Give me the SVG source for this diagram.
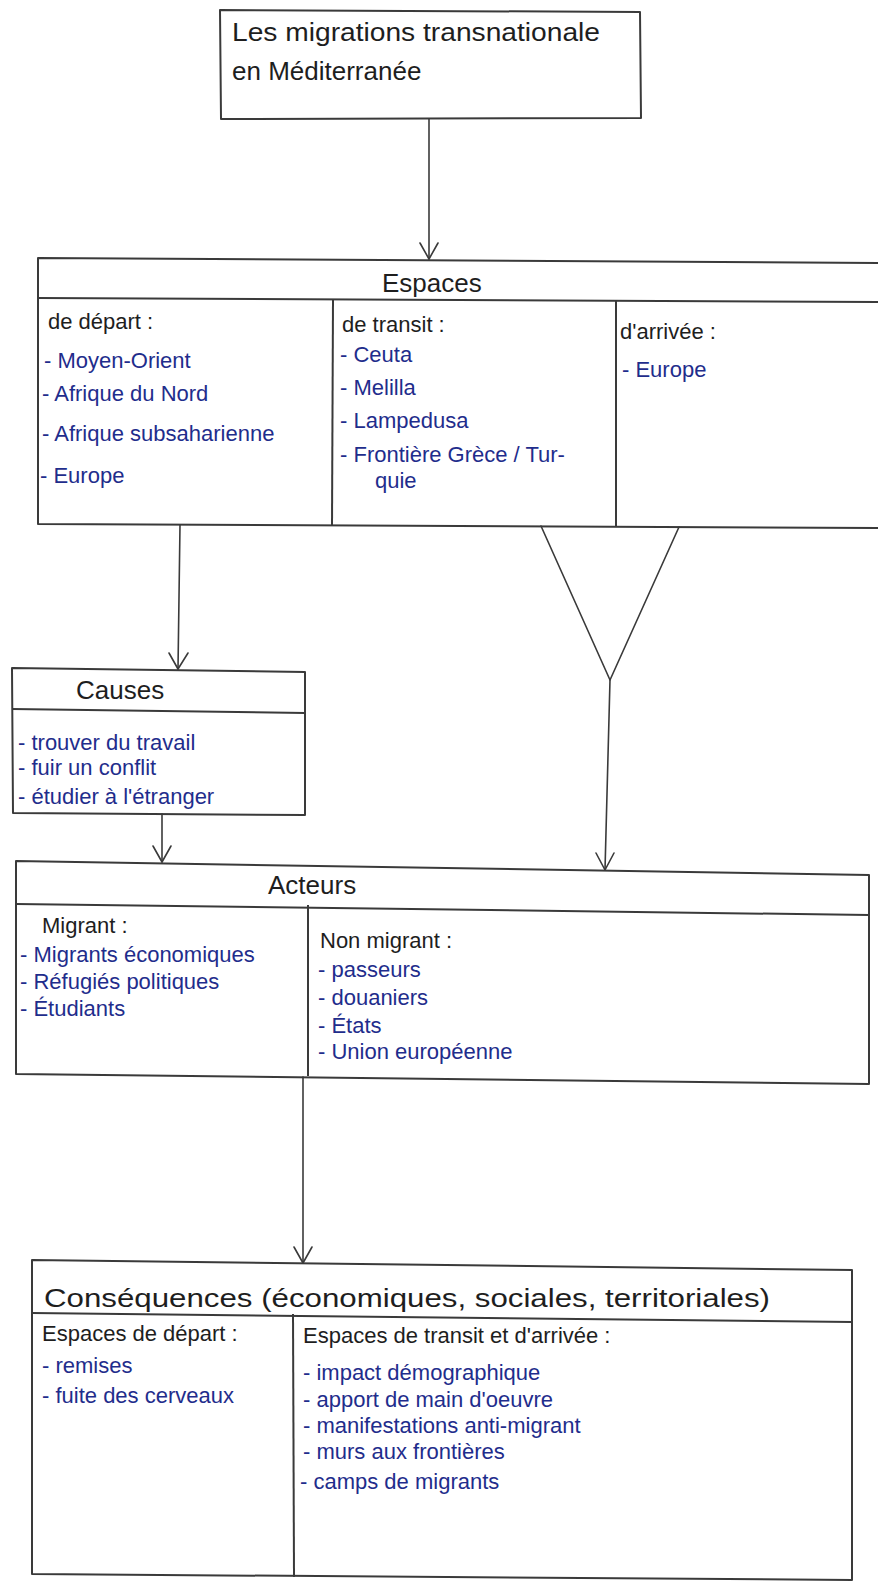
<svg xmlns="http://www.w3.org/2000/svg" width="878" height="1585" viewBox="0 0 878 1585">
<style>
  .box { fill: none; stroke: #3a3a3a; stroke-width: 2; stroke-linejoin: round; }
  .div { fill: none; stroke: #3a3a3a; stroke-width: 2; }
  .con { fill: none; stroke: #3a3a3a; stroke-width: 1.6; stroke-linecap: round; stroke-linejoin: round; }
  text { font-family: "Liberation Sans", Arial, sans-serif; }
  .h { font-size: 26px; fill: #1e1e1e; }
  .lab { font-size: 22px; fill: #1e1e1e; }
  .it { font-size: 22px; fill: #1f2d8c; }
</style>
<rect width="878" height="1585" fill="#ffffff"/>

<g id="title">
  <polygon class="box" points="220,10 640,12 641,118 221,119"/>
  <text class="h" x="232" y="41" textLength="368" lengthAdjust="spacingAndGlyphs">Les migrations transnationale</text>
  <text class="h" x="232" y="80">en Méditerranée</text>
</g>

<g id="espaces">
  <polyline class="box" points="880,263 38,258 38,524 880,528"/>
  <line class="div" x1="38" y1="298" x2="880" y2="302"/>
  <line class="div" x1="333" y1="299" x2="332" y2="526"/>
  <line class="div" x1="616" y1="301" x2="616" y2="527"/>
  <text class="h" x="382" y="292">Espaces</text>
  <text class="lab" x="48" y="329">de départ :</text>
  <text class="it" x="44" y="368">- Moyen-Orient</text>
  <text class="it" x="42" y="401">- Afrique du Nord</text>
  <text class="it" x="42" y="441">- Afrique subsaharienne</text>
  <text class="it" x="40" y="483">- Europe</text>
  <text class="lab" x="342" y="332">de transit :</text>
  <text class="it" x="340" y="362">- Ceuta</text>
  <text class="it" x="340" y="395">- Melilla</text>
  <text class="it" x="340" y="428">- Lampedusa</text>
  <text class="it" x="340" y="462">- Frontière Grèce / Tur-</text>
  <text class="it" x="375" y="488">quie</text>
  <text class="lab" x="620" y="339">d'arrivée :</text>
  <text class="it" x="622" y="377">- Europe</text>
</g>

<g id="causes">
  <polygon class="box" points="12,668 305,672 305,815 13,813"/>
  <line class="div" x1="12" y1="709" x2="305" y2="713"/>
  <text class="h" x="76" y="699">Causes</text>
  <text class="it" x="18" y="750">- trouver du travail</text>
  <text class="it" x="18" y="775">- fuir un conflit</text>
  <text class="it" x="18" y="804">- étudier à l'étranger</text>
</g>

<g id="acteurs">
  <polygon class="box" points="16,861 869,875 869,1084 16,1074"/>
  <line class="div" x1="16" y1="904" x2="869" y2="915"/>
  <line class="div" x1="308" y1="905" x2="308" y2="1076"/>
  <text class="h" x="268" y="894">Acteurs</text>
  <text class="lab" x="42" y="933">Migrant :</text>
  <text class="it" x="20" y="962">- Migrants économiques</text>
  <text class="it" x="20" y="989">- Réfugiés politiques</text>
  <text class="it" x="20" y="1016">- Étudiants</text>
  <text class="lab" x="320" y="948">Non migrant :</text>
  <text class="it" x="318" y="977">- passeurs</text>
  <text class="it" x="318" y="1005">- douaniers</text>
  <text class="it" x="318" y="1033">- États</text>
  <text class="it" x="318" y="1059">- Union européenne</text>
</g>

<g id="consequences">
  <polygon class="box" points="32,1260 852,1270 852,1580 32,1574"/>
  <line class="div" x1="32" y1="1313" x2="852" y2="1322"/>
  <line class="div" x1="293" y1="1314" x2="294" y2="1577"/>
  <text class="h" x="44" y="1307" textLength="726" lengthAdjust="spacingAndGlyphs">Conséquences (économiques, sociales, territoriales)</text>
  <text class="lab" x="42" y="1341">Espaces de départ :</text>
  <text class="it" x="42" y="1373">- remises</text>
  <text class="it" x="42" y="1403">- fuite des cerveaux</text>
  <text class="lab" x="303" y="1343">Espaces de transit et d'arrivée :</text>
  <text class="it" x="303" y="1380">- impact démographique</text>
  <text class="it" x="303" y="1407">- apport de main d'oeuvre</text>
  <text class="it" x="303" y="1433">- manifestations anti-migrant</text>
  <text class="it" x="303" y="1459">- murs aux frontières</text>
  <text class="it" x="300" y="1489">- camps de migrants</text>
</g>

<g id="connectors">
  <line class="con" x1="429" y1="119" x2="429" y2="259"/>
  <polyline class="con" points="420,243 429,259 438,243"/>
  <line class="con" x1="180" y1="525" x2="178" y2="669"/>
  <polyline class="con" points="169,653 178,669 188,653"/>
  <polyline class="con" points="541,526 610,680 679,527"/>
  <line class="con" x1="610" y1="680" x2="605" y2="870"/>
  <polyline class="con" points="596,853 605,870 614,853"/>
  <line class="con" x1="162" y1="814" x2="162" y2="862"/>
  <polyline class="con" points="153,846 162,862 171,846"/>
  <line class="con" x1="303" y1="1077" x2="303" y2="1263"/>
  <polyline class="con" points="294,1247 303,1263 312,1247"/>
</g>
</svg>
